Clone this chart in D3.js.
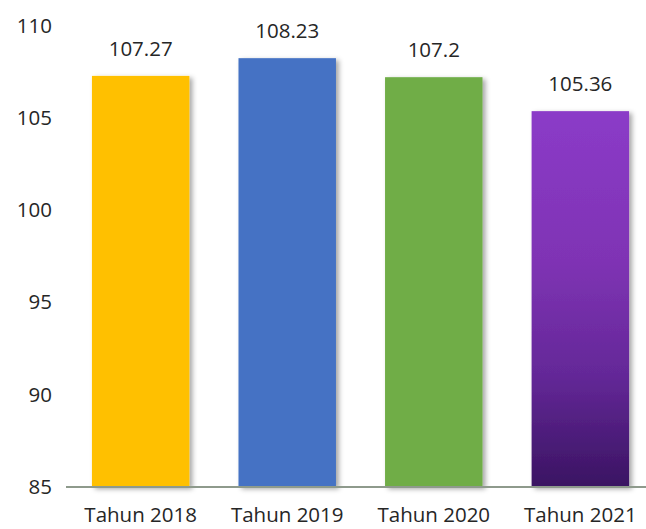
<!DOCTYPE html>
<html>
<head>
<meta charset="utf-8">
<script src="https://cdn.jsdelivr.net/npm/d3@7"></script>
<style>
  html, body { margin: 0; padding: 0; background: #fff; }
  svg { display: block; }
  text { font-family: "Open Sans", Lato, sans-serif; fill: #262626; }
</style>
</head>
<body>
<svg id="chart" width="646" height="529"></svg>
<script>
// Index values per year
const categories = ["Tahun 2018", "Tahun 2019", "Tahun 2020", "Tahun 2021"];
const values = [107.27, 108.23, 107.2, 105.36];
const valueLabels = ["107.27", "108.23", "107.2", "105.36"];
const barColors = ["#FFC000", "#4472C4", "#70AD47", "url(#purpleFade)"];
const yTicks = [85, 90, 95, 100, 105, 110];

const svg = d3.select("#chart");
const width = 646, height = 529;
const margin = { left: 66, top: 25.5, bottom: 42 };
const axisY = height - margin.bottom;
const fontSize = "20.5px";
const fontFamily = "'Open Sans', Lato, sans-serif";

const x = d3.scaleBand()
  .domain(categories)
  .range([margin.left, 655])
  .paddingInner(0.335)
  .paddingOuter(0.177);

const y = d3.scaleLinear()
  .domain([85, 110])
  .range([axisY, margin.top]);

const defs = svg.append("defs");
const grad = defs.append("linearGradient")
  .attr("id", "purpleFade")
  .attr("x1", 0).attr("y1", 0).attr("x2", 0).attr("y2", 1);
[[0, "#8B3BC8"], [0.4, "#7F33B4"], [0.7, "#642898"], [1, "#3A1462"]].forEach(([o, c]) =>
  grad.append("stop").attr("offset", o).attr("stop-color", c));

const shadow = defs.append("filter")
  .attr("id", "barShadow")
  .attr("x", "-20%").attr("y", "-10%").attr("width", "150%").attr("height", "130%");
shadow.append("feDropShadow")
  .attr("dx", 3).attr("dy", 2).attr("stdDeviation", 2.5)
  .attr("flood-color", "#000").attr("flood-opacity", 0.35);

// y-axis tick labels (no axis line)
const yAxis = d3.axisLeft(y).tickValues(yTicks).tickSize(0).tickPadding(0);
const yg = svg.append("g")
  .attr("transform", `translate(52,0)`)
  .call(yAxis);
yg.select(".domain").remove();
yg.selectAll("text")
  .style("font-size", fontSize)
  .style("font-family", fontFamily)
  .attr("fill", "#262626");

// bars
svg.append("g").selectAll("rect")
  .data(values)
  .join("rect")
  .attr("x", (d, i) => x(categories[i]))
  .attr("y", d => y(d))
  .attr("width", x.bandwidth())
  .attr("height", d => y(85) - y(d))
  .attr("fill", (d, i) => barColors[i])
  .attr("filter", "url(#barShadow)");

// value labels
svg.append("g").selectAll("text")
  .data(values)
  .join("text")
  .attr("x", (d, i) => x(categories[i]) + x.bandwidth() / 2)
  .attr("y", d => y(d) - 20)
  .attr("text-anchor", "middle")
  .style("font-size", fontSize)
  .style("font-family", fontFamily)
  .text((d, i) => valueLabels[i]);

// x axis
const xAxis = d3.axisBottom(x).tickSize(0).tickPadding(20);
const xg = svg.append("g")
  .attr("transform", `translate(0,${axisY})`)
  .call(xAxis);
xg.select(".domain")
  .attr("stroke", "#8E9A8C")
  .attr("stroke-width", 2)
  .attr("d", `M${margin.left},0H${width}`);
xg.selectAll("text")
  .style("font-size", fontSize)
  .style("font-family", fontFamily)
  .attr("fill", "#262626");
</script>
</body>
</html>
